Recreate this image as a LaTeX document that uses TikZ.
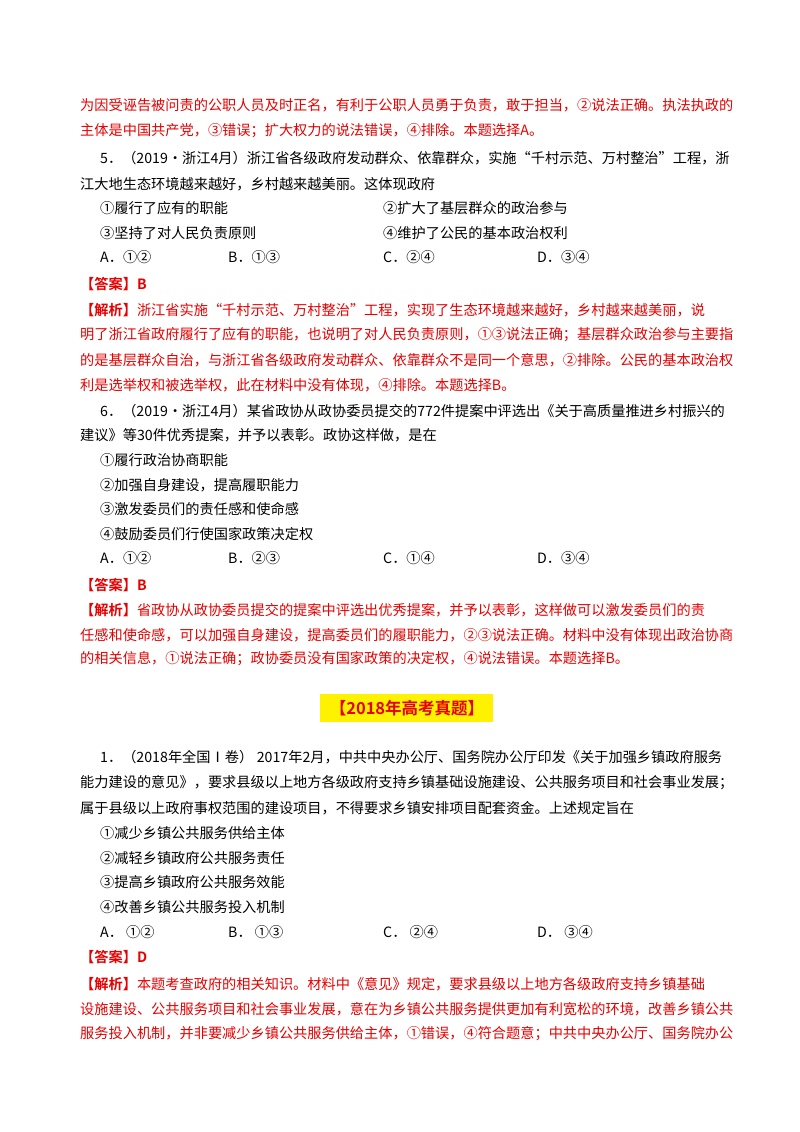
\documentclass[tikz,border=0pt]{standalone}
\usepackage{fontspec}
\setmainfont{Noto Sans CJK SC}[BoldFont={Noto Sans CJK SC Bold}]
\XeTeXlinebreaklocale "zh"
\XeTeXlinebreakskip=0pt plus 2pt
\definecolor{rd}{RGB}{230,0,0}
\newcommand{\jl}[1]{\hbox to 642pt{#1}}
\newcommand{\jm}[1]{\hbox to 622pt{#1}}
\begin{document}
\begin{tikzpicture}[x=1pt,y=-1pt,every node/.style={inner sep=0pt,anchor=west,font=\fontsize{14.2}{16}\selectfont}]
\useasboundingbox (0,0) rectangle (800,1132);
\fill[white] (0,0) rectangle (800,1132);
\begin{scope}[every node/.append style={text=rd}]
\node (l1) at (80,105) {\jl{为因受诬告被问责的公职人员及时正名，有利于公职人员勇于负责，敢于担当，②说法正确。执法执政的}};
\node (l2) at (80,131) {主体是中国共产党，③错误；扩大权力的说法错误，④排除。本题选择A。};
\end{scope}
\node (q5a) at (100,158) {\jm{5．（2019·浙江4月）浙江省各级政府发动群众、依靠群众，实施“千村示范、万村整治”工程，浙}};
\node (q5b) at (80,184) {江大地生态环境越来越好，乡村越来越美丽。这体现政府};
\node (o1) at (100,208) {①履行了应有的职能};
\node (o2) at (383,208) {②扩大了基层群众的政治参与};
\node (o3) at (100,233) {③坚持了对人民负责原则};
\node (o4) at (383,233) {④维护了公民的基本政治权利};
\node (a1) at (100,257) {A．①②};
\node (a2) at (228,257) {B．①③};
\node (a3) at (383,257) {C．②④};
\node (a4) at (537,257) {D．③④};
\begin{scope}[every node/.append style={text=rd}]
\node (ans5) at (80,284) {\textbf{【答案】B}};
\node (j51) at (80,310) {\jl{\textbf{【解析】}浙江省实施“千村示范、万村整治”工程，实现了生态环境越来越好，乡村越来越美丽，说}};
\node (j52) at (80,335) {\jl{明了浙江省政府履行了应有的职能，也说明了对人民负责原则，①③说法正确；基层群众政治参与主要指}};
\node (j53) at (80,360) {\jl{的是基层群众自治，与浙江省各级政府发动群众、依靠群众不是同一个意思，②排除。公民的基本政治权}};
\node (j54) at (80,385) {利是选举权和被选举权，此在材料中没有体现，④排除。本题选择B。};
\end{scope}
\node (q6a) at (100,411) {\jm{6．（2019·浙江4月）某省政协从政协委员提交的772件提案中评选出《关于高质量推进乡村振兴的}};
\node (q6b) at (80,435) {建议》等30件优秀提案，并予以表彰。政协这样做，是在};
\node (p1) at (100,460) {①履行政治协商职能};
\node (p2) at (100,485) {②加强自身建设，提高履职能力};
\node (p3) at (100,509) {③激发委员们的责任感和使命感};
\node (p4) at (100,534) {④鼓励委员们行使国家政策决定权};
\node (b1) at (100,558) {A．①②};
\node (b2) at (228,558) {B．②③};
\node (b3) at (383,558) {C．①④};
\node (b4) at (537,558) {D．③④};
\begin{scope}[every node/.append style={text=rd}]
\node (ans6) at (80,585) {\textbf{【答案】B}};
\node (j61) at (80,610) {\jl{\textbf{【解析】}省政协从政协委员提交的提案中评选出优秀提案，并予以表彰，这样做可以激发委员们的责}};
\node (j62) at (80,635) {\jl{任感和使命感，可以加强自身建设，提高委员们的履职能力，②③说法正确。材料中没有体现出政治协商}};
\node (j63) at (80,659) {的相关信息，①说法正确；政协委员没有国家政策的决定权，④说法错误。本题选择B。};
\end{scope}
\fill[yellow] (320,694) rectangle (493,722);
\node[anchor=center,text=rd,font=\fontsize{16.5}{18}\selectfont\bfseries] (hd) at (407,708) {【2018年高考真题】};
\node (q1a) at (100,757) {\jm{1．（2018年全国Ⅰ卷） 2017年2月，中共中央办公厅、国务院办公厅印发《关于加强乡镇政府服务}};
\node (q1b) at (80,783) {\jl{能力建设的意见》，要求县级以上地方各级政府支持乡镇基础设施建设、公共服务项目和社会事业发展；}};
\node (q1c) at (80,808) {属于县级以上政府事权范围的建设项目，不得要求乡镇安排项目配套资金。上述规定旨在};
\node (r1) at (100,833) {①减少乡镇公共服务供给主体};
\node (r2) at (100,858) {②减轻乡镇政府公共服务责任};
\node (r3) at (100,882) {③提高乡镇政府公共服务效能};
\node (r4) at (100,907) {④改善乡镇公共服务投入机制};
\node (c1) at (100,932) {A．\ ①②};
\node (c2) at (228,932) {B．\ ①③};
\node (c3) at (383,932) {C．\ ②④};
\node (c4) at (537,932) {D．\ ③④};
\begin{scope}[every node/.append style={text=rd}]
\node (ans1) at (80,957) {\textbf{【答案】D}};
\node (k1) at (80,984) {\jl{\textbf{【解析】}本题考查政府的相关知识。材料中《意见》规定，要求县级以上地方各级政府支持乡镇基础}};
\node (k2) at (80,1009) {\jl{设施建设、公共服务项目和社会事业发展，意在为乡镇公共服务提供更加有利宽松的环境，改善乡镇公共}};
\node (k3) at (80,1034) {\jl{服务投入机制，并非要减少乡镇公共服务供给主体，①错误，④符合题意；中共中央办公厅、国务院办公}};
\end{scope}
\end{tikzpicture}
\end{document}
